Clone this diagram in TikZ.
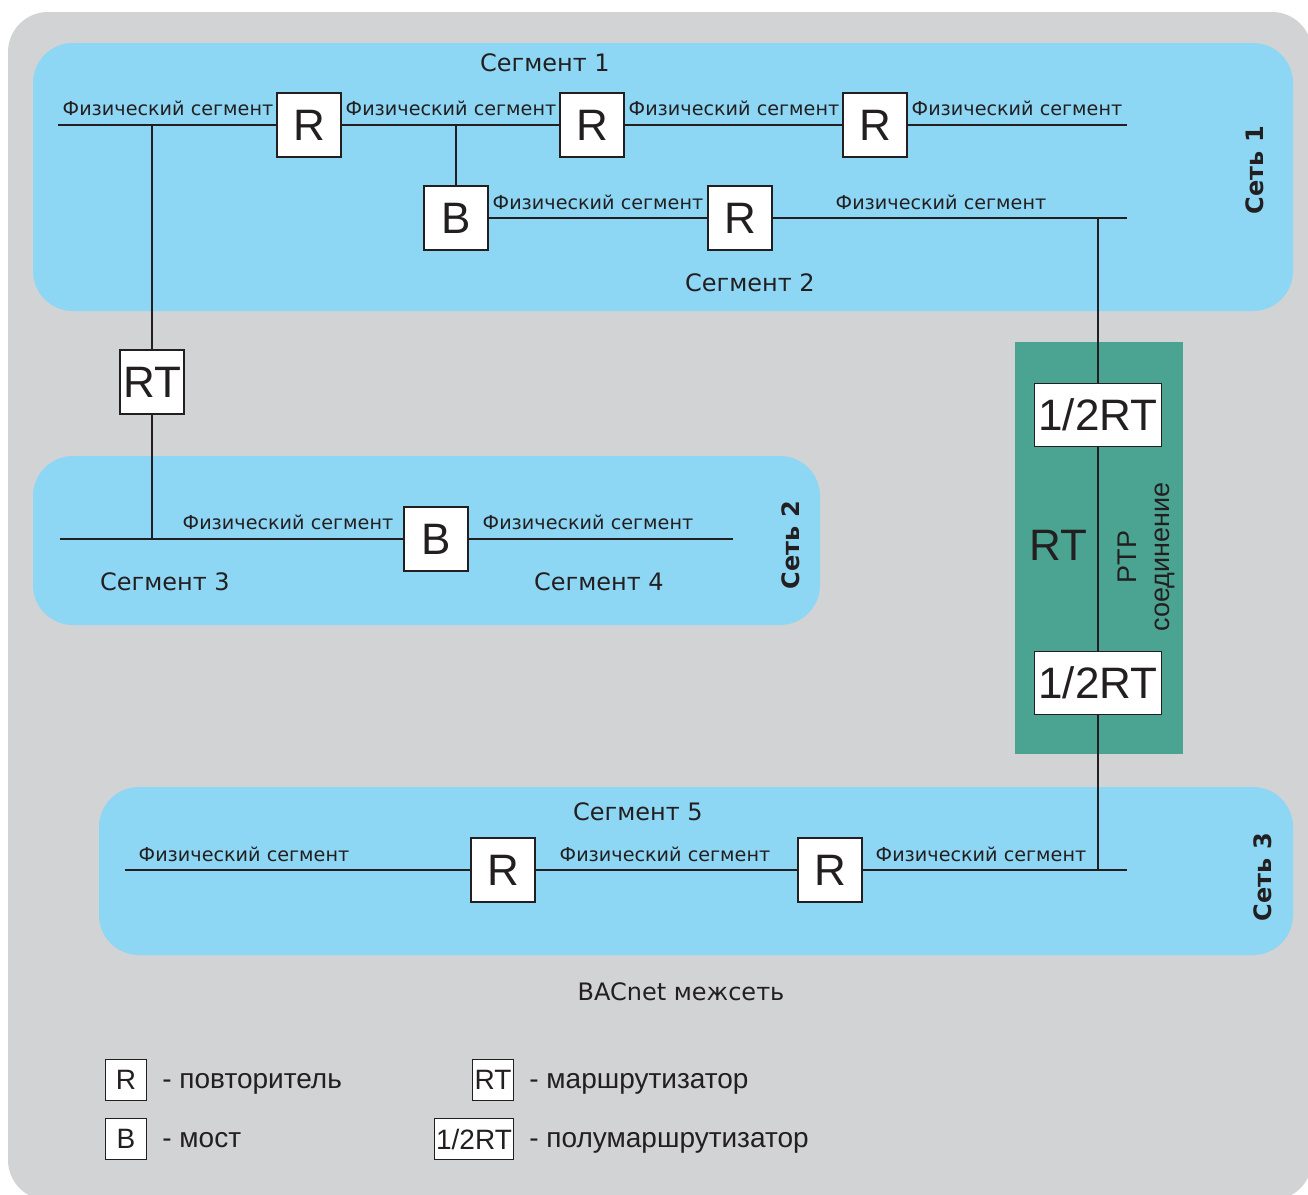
\documentclass[tikz,border=0pt]{standalone}
\usepackage{fontspec}
\setmainfont{Liberation Sans}
\newfontfamily\segfont{DejaVu Sans}
\definecolor{bggray}{HTML}{D1D3D5}
\definecolor{netblue}{HTML}{8DD7F5}
\definecolor{ptpgreen}{HTML}{4BA492}
\definecolor{ink}{HTML}{231F20}

\begin{document}
\begin{tikzpicture}[x=0.5pt, y=-0.5pt, every node/.style={text=ink},
  dev/.style={draw=ink, line width=0.9pt, fill=white, minimum width=32pt,
    minimum height=32pt, inner sep=0pt, font=\fontsize{22}{24}\selectfont},
  halfdev/.style={dev, minimum width=63.5pt, minimum height=31.5pt},
  keydev/.style={draw=ink, line width=0.8pt, fill=white, minimum width=20.5pt,
    minimum height=20.5pt, inner sep=0pt, font=\fontsize{14}{16}\selectfont},
  keytext/.style={anchor=mid west, inner sep=0pt, font=\fontsize{14}{16}\selectfont},
  phys/.style={inner sep=0pt, font=\segfont\fontsize{9.6}{12}\selectfont},
  segname/.style={inner sep=0pt, font=\segfont\fontsize{12}{14}\selectfont},
  netname/.style={inner sep=0pt, rotate=90, font=\segfont\bfseries\fontsize{12}{14}\selectfont},
  wire/.style={draw=ink, line width=0.7pt}]
\useasboundingbox (0,0) rectangle (1308,1195);

% internetwork area and the three networks
\fill[bggray, rounded corners=20pt] (8,12) rectangle (1312,1200);
\fill[netblue, rounded corners=20pt] (33,43) rectangle (1293,311);
\fill[netblue, rounded corners=20pt] (33,456) rectangle (820,625);
\fill[netblue, rounded corners=20pt] (99,787) rectangle (1293,955);
\fill[ptpgreen] (1015,342) rectangle (1183,754);

% devices
\node[dev] (r1) at (309,125) {R};
\node[dev] (r2) at (592,125) {R};
\node[dev] (r3) at (875,125) {R};
\node[dev] (b1) at (456,218) {B};
\node[dev] (r4) at (740,218) {R};
\node[dev] (rt) at (152,382) {RT};
\node[dev] (b2) at (436,539) {B};
\node[halfdev] (h1) at (1098,415) {1/2RT};
\node[halfdev] (h2) at (1098,683) {1/2RT};
\node[dev] (r5) at (503,870) {R};
\node[dev] (r6) at (830,870) {R};

% line ends and taps
\coordinate (a1) at (58,125);
\coordinate (a2) at (1127,125);
\coordinate (j1) at (152,125);
\coordinate (j2) at (456,125);
\coordinate (c2) at (1127,218);
\coordinate (j3) at (1098,218);
\coordinate (a3) at (60,539);
\coordinate (a4) at (733,539);
\coordinate (j4) at (152,539);
\coordinate (a5) at (125,870);
\coordinate (a6) at (1127,870);
\coordinate (j5) at (1098,870);

% cabling
\draw[wire] (a1) -- (r1) -- (r2) -- (r3) -- (a2);
\draw[wire] (j2) -- (b1) -- (r4) -- (c2);
\draw[wire] (j1) -- (rt) -- (j4);
\draw[wire] (a3) -- (b2) -- (a4);
\draw[wire] (j3) -- (h1) -- (h2) -- (j5);
\draw[wire] (a5) -- (r5) -- (r6) -- (a6);

% physical segment labels
\foreach \x/\y [count=\k] in {168/108,451/108,734/108,1017/108,598/202,941/202,
                              288/522,588/522,244/854,665/854,981/854}
  \node[phys] (ps\k) at (\x,\y) {Физический сегмент};

% segments and networks
\node[segname] (s1) at (545,63) {Сегмент 1};
\node[segname] (s2) at (750,283) {Сегмент 2};
\node[segname] (s3) at (165,582) {Сегмент 3};
\node[segname] (s4) at (599,582) {Сегмент 4};
\node[segname] (s5) at (638,812) {Сегмент 5};
\node[netname] (n1) at (1255,170) {Сеть 1};
\node[netname] (n2) at (791,545) {Сеть 2};
\node[netname] (n3) at (1263,877) {Сеть 3};
\node[segname] (inet) at (681,992) {BACnet межсеть};

% half-router pair
\node[font=\fontsize{22}{24}\selectfont, inner sep=0pt] (rtbig) at (1058,545) {RT};
\node[rotate=90, align=center, inner sep=0pt, font=\fontsize{13.5}{16.5}\selectfont]
  (ptp) at (1146,557) {PTP\\соединение};

% legend
\node[keydev] (kr) at (126,1080) {R};
\node[keydev] (kb) at (126,1139) {B};
\node[keydev] (krt) at (493,1080) {RT};
\node[keydev, minimum width=39.5pt] (kh) at (474,1139) {1/2RT};
\node[keytext] (tr) at (162,1083) {- повторитель};
\node[keytext] (tb) at (162,1142) {- мост};
\node[keytext] (trt) at (529,1083) {- маршрутизатор};
\node[keytext] (th) at (529,1142) {- полумаршрутизатор};
\end{tikzpicture}
\end{document}
